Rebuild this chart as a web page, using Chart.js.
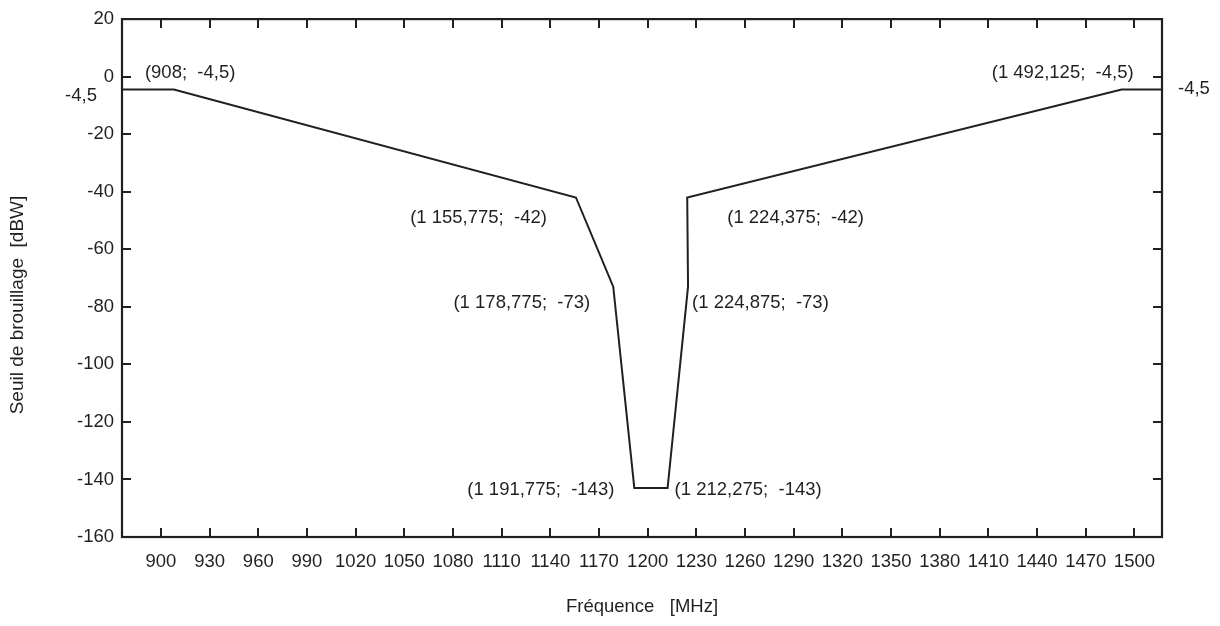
<!DOCTYPE html>
<html>
<head>
<meta charset="utf-8">
<script src="https://cdn.jsdelivr.net/npm/chart.js@4.4.1/dist/chart.umd.min.js"></script>
<style>
  html, body { margin: 0; padding: 0; background: #ffffff; }
  canvas { display: block; }
</style>
</head>
<body>
<canvas id="mask" width="1220" height="626"></canvas>
<script>
// Gabarit du seuil de brouillage en fonction de la fréquence
const frequencyMHz = [876, 908, 1155.775, 1178.775, 1191.775, 1212.275, 1224.875, 1224.375, 1492.125, 1517];
const thresholdDBW = [-4.5, -4.5, -42, -73, -143, -143, -73, -42, -4.5, -4.5];
// vertices annotated with their coordinates
const labelledVertices = [1, 2, 3, 4, 5, 6, 7, 8];
// level annotated on both sides of the frame
const edgeLevelDBW = -4.5;

const xTickValues = [900, 930, 960, 990, 1020, 1050, 1080, 1110, 1140, 1170, 1200,
                     1230, 1260, 1290, 1320, 1350, 1380, 1410, 1440, 1470, 1500];
const yTickValues = [20, 0, -20, -40, -60, -80, -100, -120, -140, -160];

const INK = '#231f20';
const FONT = "'Liberation Sans', Arial, sans-serif";

// text placement relative to each annotated vertex
const labelPlacement = [
  { dx: -29, dy: -17, align: 'left' },
  { dx: -29, dy: 20, align: 'right' },
  { dx: -23, dy: 16, align: 'right' },
  { dx: -20, dy: 2, align: 'right' },
  { dx: 7, dy: 2, align: 'left' },
  { dx: 4, dy: 16, align: 'left' },
  { dx: 40, dy: 20, align: 'left' },
  { dx: 12, dy: -17, align: 'right' }
];

// French number style: space as thousands separator, comma as decimal mark
function frNumber(v) {
  const parts = Math.abs(v).toString().split('.');
  const intPart = parts[0].replace(/\B(?=(\d{3})+(?!\d))/g, ' ');
  return (v < 0 ? '-' : '') + intPart + (parts[1] ? ',' + parts[1] : '');
}

const points = frequencyMHz.map((f, i) => ({ x: f, y: thresholdDBW[i] }));

const frameAndNotes = {
  id: 'frameAndNotes',
  afterDraw(chart) {
    const { ctx, chartArea: a, scales: { x, y } } = chart;
    ctx.save();
    ctx.strokeStyle = INK;
    ctx.fillStyle = INK;

    // inward tick marks on all four sides
    ctx.lineWidth = 2;
    const tl = 9;
    ctx.beginPath();
    x.ticks.forEach(t => {
      const px = Math.round(x.getPixelForValue(t.value));
      ctx.moveTo(px, a.bottom); ctx.lineTo(px, a.bottom - tl);
      ctx.moveTo(px, a.top); ctx.lineTo(px, a.top + tl);
    });
    y.ticks.forEach(t => {
      const py = Math.round(y.getPixelForValue(t.value));
      ctx.moveTo(a.left, py); ctx.lineTo(a.left + tl, py);
      ctx.moveTo(a.right, py); ctx.lineTo(a.right - tl, py);
    });
    ctx.stroke();

    // frame
    ctx.lineWidth = 2.2;
    ctx.strokeRect(a.left, a.top, a.right - a.left, a.bottom - a.top);

    // vertex coordinates
    ctx.font = '18.5px ' + FONT;
    ctx.textBaseline = 'middle';
    labelledVertices.forEach((idx, k) => {
      const p = labelPlacement[k];
      const px = x.getPixelForValue(frequencyMHz[idx]);
      const py = y.getPixelForValue(thresholdDBW[idx]);
      ctx.textAlign = p.align;
      ctx.fillText('(' + frNumber(frequencyMHz[idx]) + ';  ' + frNumber(thresholdDBW[idx]) + ')', px + p.dx, py + p.dy);
    });

    // edge level on each side
    const ey = y.getPixelForValue(edgeLevelDBW);
    ctx.textAlign = 'right';
    ctx.fillText(frNumber(edgeLevelDBW), a.left - 25, ey + 6);
    ctx.textAlign = 'left';
    ctx.fillText(frNumber(edgeLevelDBW), a.right + 16, ey - 1);

    // vertical axis title
    ctx.font = '19px ' + FONT;
    ctx.translate(18, 305);
    ctx.rotate(-Math.PI / 2);
    ctx.textAlign = 'center';
    ctx.fillText('Seuil de brouillage  [dBW]', 0, 0);
    ctx.restore();
  }
};

new Chart(document.getElementById('mask'), {
  type: 'scatter',
  data: {
    datasets: [{
      data: points,
      showLine: true,
      borderColor: INK,
      borderWidth: 2,
      pointRadius: 0,
      tension: 0,
      fill: false
    }]
  },
  options: {
    responsive: false,
    animation: false,
    events: [],
    layout: { padding: { left: 0, right: 58, top: 18, bottom: 0 } },
    plugins: { legend: { display: false }, tooltip: { enabled: false } },
    scales: {
      x: {
        type: 'linear',
        min: frequencyMHz[0],
        max: frequencyMHz[frequencyMHz.length - 1],
        afterBuildTicks: s => { s.ticks = xTickValues.map(v => ({ value: v })); },
        afterFit: s => { s.height = 89; },
        grid: { display: false, drawTicks: false },
        border: { display: false },
        ticks: {
          padding: 14,
          color: INK,
          font: { family: FONT, size: 18.5 },
          maxRotation: 0,
          autoSkip: false,
          callback: v => String(v)
        },
        title: {
          display: true,
          text: 'Fréquence   [MHz]',
          color: INK,
          font: { family: FONT, size: 18.5 },
          padding: { top: 0, bottom: 8 }
        }
      },
      y: {
        type: 'linear',
        min: yTickValues[yTickValues.length - 1],
        max: yTickValues[0],
        afterBuildTicks: s => { s.ticks = yTickValues.slice().reverse().map(v => ({ value: v })); },
        afterFit: s => { s.width = 122; },
        grid: { display: false, drawTicks: false },
        border: { display: false },
        ticks: {
          padding: 8,
          color: INK,
          font: { family: FONT, size: 18.5 },
          autoSkip: false,
          callback: v => String(v)
        }
      }
    }
  },
  plugins: [frameAndNotes]
});
</script>
</body>
</html>
